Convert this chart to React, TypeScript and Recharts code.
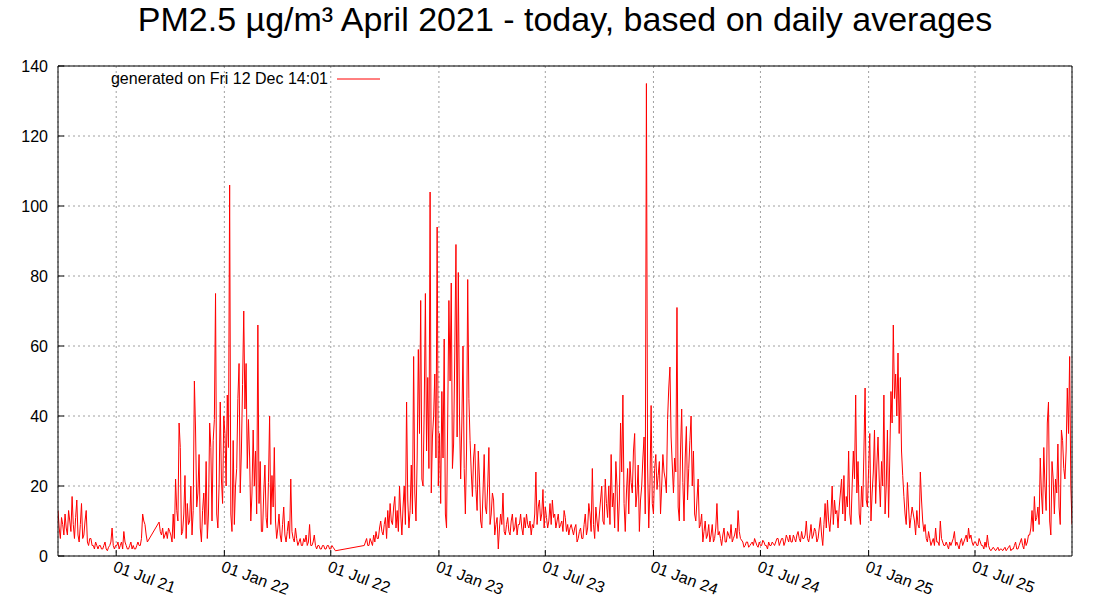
import { LineChart, Line, XAxis, YAxis, CartesianGrid } from 'recharts';

const DAY = 86400000;
const FONT = '"Liberation Sans", Arial, Helvetica, sans-serif';
const STEP_DAYS = 2;

// PM2.5 daily averages (µg/m³), one sample every 2 days, per block (gaps between blocks)
const startA = '2021-03-24';
const pmA = [
  13, 8, 5, 11, 9, 6, 12, 8, 6, 13, 10, 7, 17, 9, 5, 11, 16, 6, 4, 9,
  15, 5, 6, 10, 13, 4, 3, 5, 5, 3, 3, 2, 4, 3, 2, 3, 3, 2, 2, 3,
  4, 2, 1.5, 2.5, 3, 4, 8, 3, 2, 3, 3, 4, 2, 3, 4, 2, 7, 4, 3, 2,
  2, 3, 4, 2, 3, 2, 2, 3, 4, 3, 3, 5, 12, 10, 9, 6, 4,
];

const startB = '2021-09-12';
const pmB = [
  9.7, 7, 6, 8, 5, 6, 7, 5, 8, 7, 6, 4, 12, 5, 22, 13, 10, 38, 31, 6,
  7, 12, 23, 5, 15, 9, 10, 20, 6, 13, 50, 36, 14, 18, 29, 8, 4, 13, 18, 9,
  27, 5, 12, 38, 31, 10, 33, 39, 75, 12, 8, 20, 44, 22, 15, 40, 35, 20, 46, 31,
  106, 12, 7, 33, 9, 20, 25, 45, 55, 18, 30, 49, 70, 42, 55, 25, 39, 28, 10, 18,
  36, 20, 30, 12, 66, 15, 27, 7, 7, 18, 26, 11, 8, 21, 40, 9, 23, 14, 31, 10,
  5, 8, 12, 6, 4, 9, 14, 6, 4, 7, 10, 5, 22, 7, 5, 4, 8, 5, 3, 4,
  5, 3, 3, 5, 4, 6, 3, 4, 9, 3, 3, 4, 6, 3, 2, 3, 3, 2, 2, 3,
  3, 2, 2, 3, 3, 2, 2, 3, 2.5, 2, 1.5,
];

const startC = '2022-08-27';
const pmC = [
  3, 4, 5, 3, 3, 5, 4, 3, 6, 4, 7, 5, 5, 8, 10, 7, 6, 9, 11, 5,
  13, 8, 15, 10, 9, 14, 17, 8, 13, 7, 20, 12, 6, 14, 20, 9, 44, 16, 8, 13,
  26, 12, 57, 18, 10, 28, 59, 35, 73, 22, 20, 42, 75, 30, 51, 25, 104, 18, 34, 40,
  52, 28, 94, 20, 35, 15, 47, 28, 62, 12, 8, 40, 73, 50, 78, 25, 32, 58, 89, 34,
  81, 40, 22, 38, 60, 25, 12, 30, 79, 45, 33, 24, 17, 28, 32, 19, 13, 30, 22, 10,
  8, 18, 29, 14, 12, 20, 31, 9, 12, 18, 16, 6, 9, 11, 2, 8, 12, 9, 18, 7,
  6, 9, 11, 7, 6, 10, 12, 7, 8, 11, 6, 9, 9, 12, 8, 6, 11, 8, 12, 9,
  8, 10, 6, 9, 8, 12, 24, 9, 14, 16, 10, 12, 19, 8, 14, 11, 8, 10, 15, 9,
  16, 11, 12, 8, 10, 12, 8, 9, 10, 7, 13, 11, 7, 9, 6, 8, 9,
];

const startD = '2023-08-18';
const pmD = [
  6, 8, 9, 4, 5, 7, 8, 5, 5, 9, 12, 6, 8, 15, 12, 7, 25, 9, 5, 14,
  10, 7, 12, 16, 20, 10, 9, 22, 15, 11, 20, 9, 29, 14, 18, 8, 27, 20, 7, 16,
  38, 24, 46, 15, 7, 18, 25, 12, 27, 21, 18, 30, 35, 14, 18, 26, 7, 16, 20, 28,
  34, 12, 135, 26, 8, 20, 43, 15, 12, 25, 29, 19, 23, 27, 12, 20, 29, 24, 22, 18,
  39, 48, 54, 34, 26, 18, 28, 24, 71, 14, 10, 30, 42, 21, 10, 28, 37, 16, 25, 33,
  40, 20, 30, 12, 10, 16, 22, 8, 9, 12, 4, 7, 10, 5, 6, 9, 4, 6, 9, 4,
  5, 8, 15, 6, 7, 5, 3, 6, 8, 4, 4, 7, 6, 5, 9, 4, 5, 6, 8, 5,
  13, 7, 5,
];

const startE = '2024-06-01';
const pmE = [
  4, 2.5, 3, 4, 4, 2.5, 3, 3.5, 4, 3, 5, 4, 3, 2.5, 4, 3, 3, 4.5, 4, 3,
  3, 2, 4, 3, 3, 4, 3.5, 3, 4, 5, 5, 3, 4, 5, 5, 3, 4, 6, 5, 4,
  6, 4, 4, 6, 5, 4, 6, 7, 5, 4, 7, 5, 5, 6, 10, 5, 4, 6, 9, 5,
  6, 8, 7, 4, 5, 8, 11, 6, 3, 9, 15, 8, 16, 10, 7, 12, 20, 9, 16, 12,
  13, 8, 14, 18, 22, 12, 23, 10, 17, 14, 30, 12, 9, 20, 30, 22, 46, 18, 27, 12,
  9, 20, 14, 30, 48, 16, 14, 25, 35, 10, 18, 24, 36, 15, 26, 34, 22, 14, 27, 20,
  46, 12, 20, 36, 11, 28, 47, 38, 66, 45, 52, 40, 58, 35, 51, 30, 23, 17, 12, 9,
  21, 14, 8, 11, 14,
];

const startF = '2025-03-20';
const pmF = [
  10, 6, 13, 9, 8, 24, 16, 10, 7, 9, 5, 4, 7, 5, 3, 4, 5, 3, 8, 4,
  4, 3, 10, 5, 4, 3, 3, 4, 3, 2, 4, 3, 4, 5, 7, 3, 4, 3, 2, 4,
  5, 3, 4, 5, 6, 4, 8, 5, 6, 4, 3, 4, 4, 3, 3, 5, 4, 3, 3, 2,
  4, 2.5, 6, 3, 2, 1.5, 2, 2.5, 2, 1.5, 2, 2.5, 1.5, 2, 2, 1.5, 2, 2.5, 1.5, 2,
  2.5, 3, 1.5, 2, 2, 3, 4, 2, 2, 3, 4, 5, 3, 2, 5, 3, 4, 6, 6, 8,
  13, 7, 17, 10, 11, 14, 9, 28, 18, 12, 31, 20, 13, 38, 44, 10, 6, 27, 22, 12,
  22, 18, 32, 14, 9, 36, 33, 25, 22, 30, 48, 35, 57, 20, 9,
];

const tickDates = ['2021-07-01', '2022-01-01', '2022-07-01', '2023-01-01', '2023-07-01', '2024-01-01', '2024-07-01', '2025-01-01', '2025-07-01'];
const yTicks = [0, 20, 40, 60, 80, 100, 120, 140];
const MONTHS = ['Jan', 'Feb', 'Mar', 'Apr', 'May', 'Jun', 'Jul', 'Aug', 'Sep', 'Oct', 'Nov', 'Dec'];

const utc = (d: string) => Date.parse(d + 'T00:00:00Z');

const blocks: [string, number[]][] = [
  [startA, pmA], [startB, pmB], [startC, pmC], [startD, pmD], [startE, pmE], [startF, pmF],
];

const data = blocks.flatMap(([start, vals]) =>
  vals.map((v, i) => ({ t: utc(start) + i * STEP_DAYS * DAY, pm: v }))
);

const xTicks = tickDates.map(utc);
const xDomain = [data[0].t, data[data.length - 1].t];

function fmtDate(t: number) {
  const d = new Date(t);
  return `${String(d.getUTCDate()).padStart(2, '0')} ${MONTHS[d.getUTCMonth()]} ${String(d.getUTCFullYear()).slice(2)}`;
}

function DateTick(props: any) {
  const { x, y, payload } = props;
  const tx = x - 4;
  const ty = y + 15;
  return (
    <text x={tx} y={ty} transform={`rotate(20 ${tx} ${ty})`} fontSize={16} fontFamily={FONT} fill="#000" textAnchor="start">
      {fmtDate(payload.value)}
    </text>
  );
}

export default function App() {
  return (
    <div style={{ position: 'absolute', left: 0, top: 0, width: 1100, height: 600, background: '#fff' }}>
      <LineChart width={1100} height={600} data={data} margin={{ top: 65, right: 27, bottom: 4, left: 8 }}>
        <CartesianGrid stroke="#a0a0a0" strokeDasharray="2 3" />
        <XAxis
          dataKey="t"
          type="number"
          domain={xDomain}
          allowDataOverflow
          ticks={xTicks}
          interval={0}
          height={40}
          stroke="#000"
          tickSize={-6}
          tickMargin={6}
          tick={<DateTick />}
        />
        <XAxis
          xAxisId="top"
          orientation="top"
          dataKey="t"
          type="number"
          domain={xDomain}
          allowDataOverflow
          ticks={xTicks}
          interval={0}
          height={1}
          stroke="#000"
          tickSize={-6}
          tick={false}
        />
        <YAxis
          domain={[0, 140]}
          ticks={yTicks}
          interval={0}
          width={50}
          stroke="#000"
          tickSize={-6}
          tickMargin={16}
          tick={{ fill: '#000', fontSize: 16, fontFamily: FONT }}
        />
        <YAxis
          yAxisId="right"
          orientation="right"
          domain={[0, 140]}
          ticks={yTicks}
          interval={0}
          width={1}
          stroke="#000"
          tickSize={-6}
          tick={false}
        />
        <Line dataKey="pm" type="linear" stroke="#ff0000" strokeWidth={1} dot={false} isAnimationActive={false} />
      </LineChart>
      <svg width={1100} height={600} style={{ position: 'absolute', left: 0, top: 0, pointerEvents: 'none' }}>
        <text x={565} y={31} textAnchor="middle" fontSize={34} fontFamily={FONT} fill="#000">
          PM2.5 µg/m³ April 2021 - today, based on daily averages
        </text>
        <text x={328} y={84} textAnchor="end" fontSize={16} fontFamily={FONT} fill="#000">
          generated on Fri 12 Dec 14:01
        </text>
        <line x1={337} x2={380} y1={79} y2={79} stroke="#ff0000" strokeWidth={1} />
      </svg>
    </div>
  );
}
